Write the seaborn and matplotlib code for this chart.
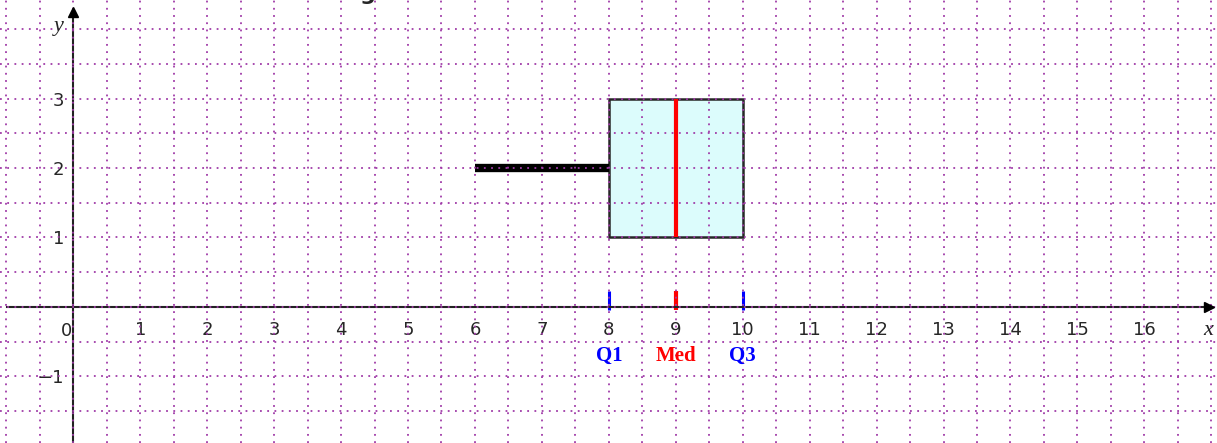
import numpy as np
import pandas as pd
import matplotlib
matplotlib.use('Agg')
import matplotlib.pyplot as plt
from matplotlib.ticker import MultipleLocator
import seaborn as sns

# data: min 6, Q1 8, median 9, Q3 10, max 10
values = [6, 8, 9, 10, 10]
box_row = [2, 2, 2, 2, 2]
x_ticks = list(range(1, 17))
y_ticks = [-1, 1, 2, 3, 4]
y_tick_labels = ['\u22121', '1', '2', '3', '']
quart_names = ['Q1', 'Med', 'Q3']
quart_colors = ['#0000ff', '#ff0000', '#0000ff']

df = pd.DataFrame({'value': values, 'row': box_row})
quarts = np.percentile(values, [25, 50, 75])

sns.set_style('white')
fig = plt.figure(figsize=(12.17, 4.43), dpi=100)
ax = fig.add_axes([0, 0, 1, 1])

sns.boxplot(data=df, x='value', y='row', orient='h', native_scale=True, width=2,
            color='#dcfcfc', saturation=1, linecolor='#2a2a2a', showcaps=False,
            showfliers=False,
            boxprops=dict(facecolor='#dcfcfc', edgecolor='#262626', linewidth=1.8, zorder=1),
            whiskerprops=dict(color='black', linewidth=6, solid_capstyle='butt', zorder=1),
            medianprops=dict(color='#ff0000', linewidth=3, zorder=4),
            ax=ax)

# quartile marks on the x axis
for q, name, col in zip(quarts, quart_names, quart_colors):
    ax.plot([q, q], [-0.05, 0.23], color=col, lw=3 if name == 'Med' else 2.2,
            solid_capstyle='butt', zorder=2)
    ax.text(q, -0.70, name, color=col, ha='center', va='center', fontsize=15,
            fontweight='bold', family='Liberation Serif')

ax.set_xlim(-1.095, 17.085)
ax.set_ylim(-1.96, 4.42)
ax.set_xlabel('')
ax.set_ylabel('')

# axes through the origin
for side in ['top', 'right']:
    ax.spines[side].set_visible(False)
ax.spines['left'].set_position(('data', 0))
ax.spines['bottom'].set_position(('data', 0))
ax.spines['bottom'].set_bounds(-0.99, 16.97)
ax.spines['left'].set_bounds(-1.96, 4.24)
for side in ['left', 'bottom']:
    ax.spines[side].set_linewidth(1.5)
    ax.spines[side].set_color('#222222')
ax.plot(16.97, 0, marker='>', ms=7, color='black', clip_on=False, zorder=5)
ax.plot(0, 4.24, marker='^', ms=7, color='black', clip_on=False, zorder=5)

ax.set_xticks(x_ticks)
ax.set_xticklabels([str(t) for t in x_ticks])
ax.set_yticks(y_ticks, labels=y_tick_labels)
ax.tick_params(which='major', direction='inout', length=11.5, width=1.2,
               labelsize=13, color='#222222')
ax.tick_params(axis='x', pad=4.5)
ax.tick_params(axis='y', pad=1)
ax.text(-0.1, -0.34, '0', ha='center', va='center', fontsize=13)
ax.text(16.95, -0.34, 'x', ha='center', va='center', fontsize=16,
        style='italic', family='Liberation Serif')
ax.text(-0.22, 4.04, 'y', ha='center', va='center', fontsize=16,
        style='italic', family='Liberation Serif')

# dotted purple grid every 0.5
ax.xaxis.set_minor_locator(MultipleLocator(0.5))
ax.yaxis.set_minor_locator(MultipleLocator(0.5))
ax.xaxis.remove_overlapping_locs = False
ax.yaxis.remove_overlapping_locs = False
ax.tick_params(which='minor', length=0)
ax.set_axisbelow(False)
ax.grid(which='major', visible=False)
ax.grid(which='minor', color='#a03ca8', linestyle=(0, (1, 3)), linewidth=1.3)

# clipped title remnant at the top edge
fig.text(368 / 1217, 1.0, 'g', ha='center', va='baseline', fontsize=16,
         fontweight='bold')

fig.savefig('out.png', dpi=100)
